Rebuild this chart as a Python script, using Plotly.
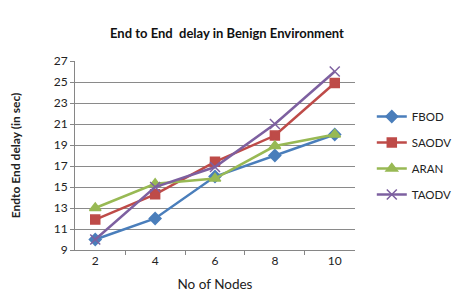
import plotly.graph_objects as go

nodes = ["2", "4", "6", "8", "10"]
fbod = [10, 12, 16, 18, 20]
saodv = [11.9, 14.3, 17.4, 19.9, 24.9]
aran = [13, 15.3, 15.8, 18.9, 20]
taodv = [10, 15, 16.9, 21, 26]

series = [
    ("FBOD", fbod, "#4a7ebb", "diamond", 9),
    ("SAODV", saodv, "#be4b48", "square", 9),
    ("ARAN", aran, "#98b954", "triangle-up", 10),
    ("TAODV", taodv, "#7d60a0", "x-thin-open", 10),
]

fig = go.Figure()
for name, vals, color, sym, size in series:
    fig.add_trace(go.Scatter(
        x=nodes, y=vals, name=name, mode="lines+markers",
        legendgroup=name,
        line=dict(color=color, width=2.5),
        marker=dict(symbol=sym, size=size, color=color,
                    line=dict(color=color, width=1.5)),
    ))

font_family = "Lato, 'Open Sans', sans-serif"
fig.update_layout(
    width=461, height=301,
    margin=dict(l=67, r=94, t=53, b=59),
    paper_bgcolor="white", plot_bgcolor="white",
    font=dict(family=font_family, size=11, color="#222"),
    title=dict(text="<b>End to End  delay in Benign Environment</b>",
               x=0.475, xanchor="center", y=0.917, yanchor="middle",
               font=dict(size=13, color="#111")),
    showlegend=True,
    legend=dict(x=1.06, xanchor="left", y=0.5, yanchor="middle",
                font=dict(size=11.5, color="#222"), tracegroupgap=7,
                bgcolor="rgba(0,0,0,0)"),
    xaxis=dict(type="category", showgrid=False, showline=True,
               linecolor="#868686", linewidth=1,
               ticks="outside", tickson="boundaries", ticklen=4,
               tickcolor="#868686", automargin=False,
               title=dict(text="No of Nodes", font=dict(size=13.5), standoff=12),
               tickfont=dict(size=12)),
    yaxis=dict(range=[9, 27], tickvals=list(range(9, 28, 2)),
               showgrid=True, gridcolor="#8a8a8a", gridwidth=1,
               showline=True, linecolor="#868686", linewidth=1,
               ticks="outside", ticklen=4, tickcolor="#868686",
               zeroline=False, automargin=False,
               title=dict(text="<b>Endto End delay (in sec)</b>", font=dict(size=12), standoff=31),
               tickfont=dict(size=12)),
)

fig.write_html("out.html")
